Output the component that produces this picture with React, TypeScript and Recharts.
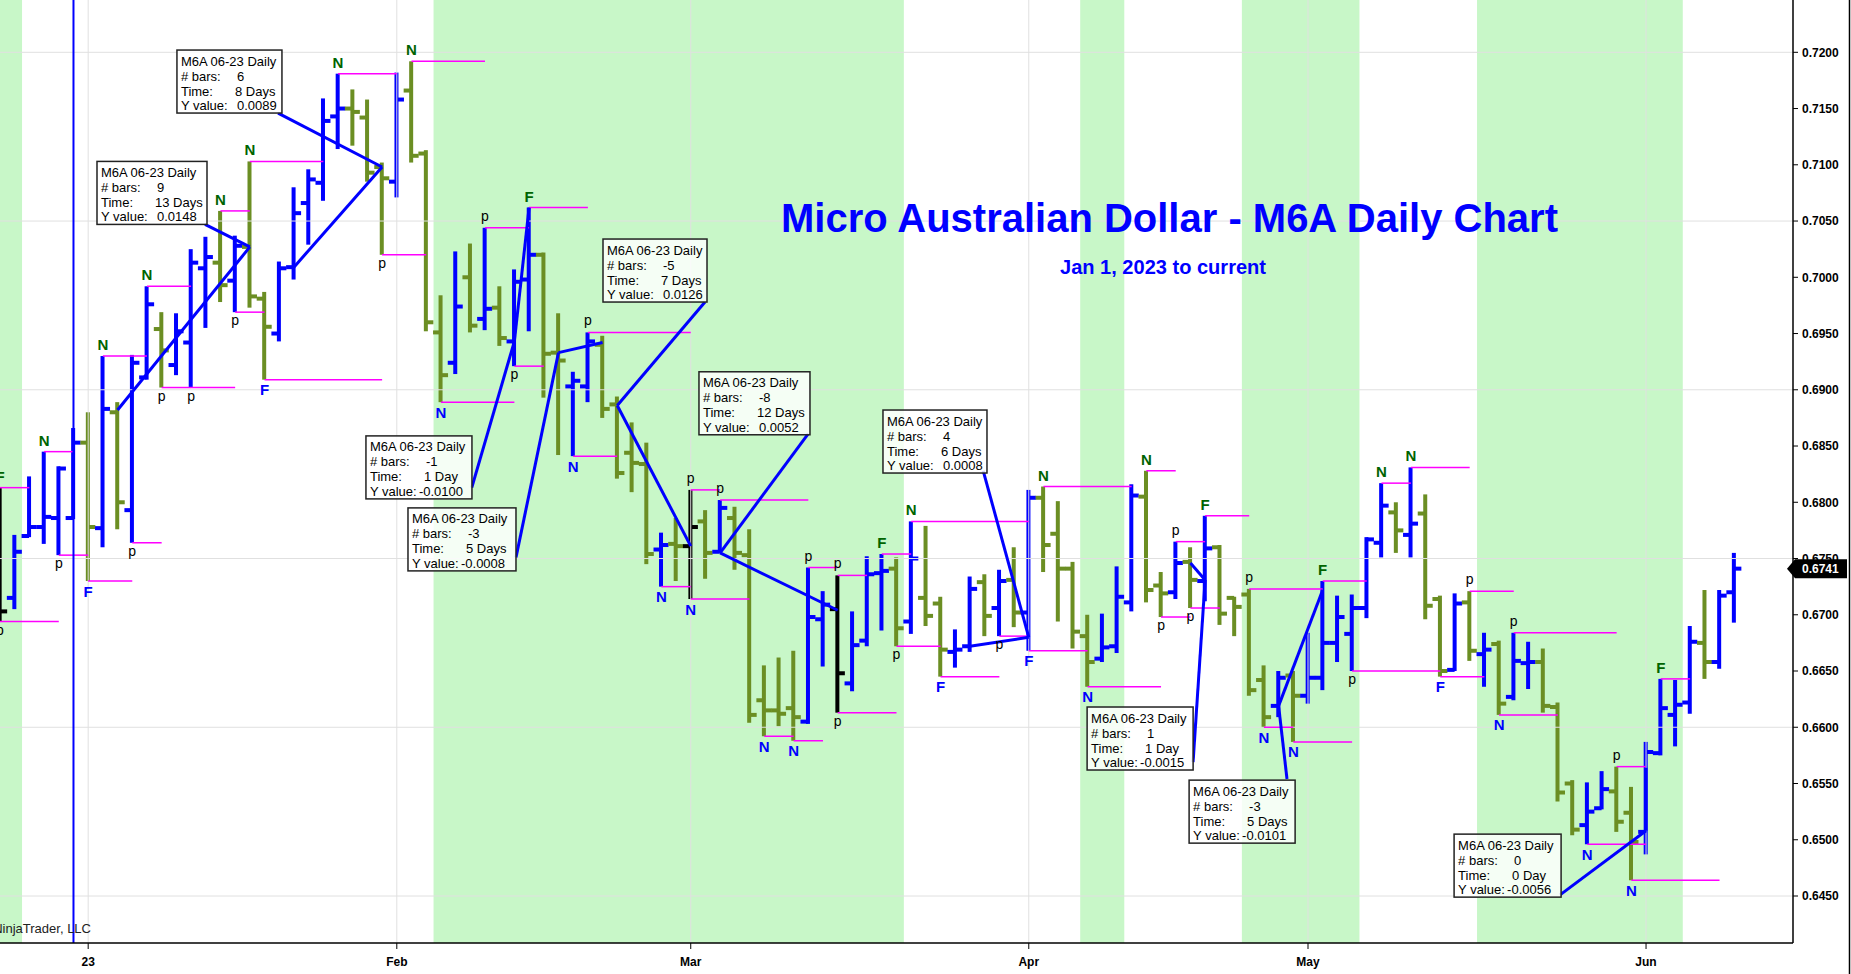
import React from 'react';
import { ComposedChart, Bar, XAxis, YAxis, ReferenceLine, ReferenceArea, ReferenceDot } from 'recharts';

// ---------- DATA ----------
const opens = [
  0.6767, 0.6715, 0.6770, 0.6778, 0.6786, 0.6786, 0.6853, 0.6777, 0.6880, 0.6793,
  0.6911, 0.6954, 0.6922, 0.6942, 0.7008, 0.7013, 0.6997, 0.7027, 0.6981, 0.6950,
  0.7009, 0.7066, 0.7084, 0.7143, 0.7150, 0.7142, 0.7098, 0.7085, 0.7166, 0.7110,
  0.6951, 0.6924, 0.7000, 0.6963, 0.6973, 0.6943, 0.6998, 0.7020, 0.6933, 0.6903,
  0.6903, 0.6940, 0.6887, 0.6844, 0.6834, 0.6758, 0.6763, 0.6761, 0.6783, 0.6756,
  0.6786, 0.6753, 0.6624, 0.6615, 0.6617, 0.6605, 0.6696, 0.6705, 0.6639, 0.6677,
  0.6737, 0.6741, 0.6694, 0.6715, 0.6710, 0.6667, 0.6672, 0.6729, 0.6706, 0.6731,
  0.6702, 0.6804, 0.6772, 0.6741, 0.6681, 0.6661, 0.6672, 0.6711, 0.6805, 0.6726,
  0.6720, 0.6747, 0.6730, 0.6760, 0.6715, 0.6718, 0.6642, 0.6619, 0.6646, 0.6628,
  0.6644, 0.6675, 0.6683, 0.6706, 0.6764, 0.6791, 0.6771, 0.6790, 0.6714, 0.6651,
  0.6711, 0.6665, 0.6674, 0.6627, 0.6657, 0.6658, 0.6618, 0.6550, 0.6513, 0.6528,
  0.6543, 0.6524, 0.6507, 0.6577, 0.6611, 0.6622, 0.6675, 0.6658, 0.6720,
];
const highs = [
  0.6813, 0.6771, 0.6823, 0.6845, 0.6832, 0.6866, 0.6880, 0.6930, 0.6889, 0.6931,
  0.6992, 0.6969, 0.6968, 0.7025, 0.7036, 0.7059, 0.7037, 0.7103, 0.6987, 0.7014,
  0.7080, 0.7096, 0.7159, 0.7181, 0.7167, 0.7158, 0.7102, 0.7182, 0.7192, 0.7113,
  0.6984, 0.7023, 0.7030, 0.7044, 0.6992, 0.7007, 0.7062, 0.7022, 0.6968, 0.6916,
  0.6951, 0.6948, 0.6894, 0.6871, 0.6853, 0.6773, 0.6786, 0.6811, 0.6793, 0.6802,
  0.6796, 0.6776, 0.6655, 0.6662, 0.6668, 0.6742, 0.6721, 0.6735, 0.6703, 0.6752,
  0.6754, 0.6751, 0.6783, 0.6779, 0.6716, 0.6687, 0.6734, 0.6736, 0.6740, 0.6760,
  0.6811, 0.6814, 0.6801, 0.6747, 0.6700, 0.6701, 0.6743, 0.6816, 0.6828, 0.6738,
  0.6765, 0.6760, 0.6788, 0.6762, 0.6716, 0.6723, 0.6655, 0.6650, 0.6650, 0.6684,
  0.6730, 0.6717, 0.6718, 0.6769, 0.6817, 0.6800, 0.6831, 0.6807, 0.6717, 0.6719,
  0.6721, 0.6684, 0.6677, 0.6684, 0.6676, 0.6670, 0.6622, 0.6553, 0.6551, 0.6561,
  0.6565, 0.6547, 0.6587, 0.6643, 0.6642, 0.6690, 0.6722, 0.6722, 0.6755,
];
const lows = [
  0.6694, 0.6705, 0.6769, 0.6763, 0.6753, 0.6785, 0.6730, 0.6760, 0.6776, 0.6764,
  0.6909, 0.6902, 0.6913, 0.6902, 0.6955, 0.6978, 0.6969, 0.6973, 0.6909, 0.6943,
  0.6998, 0.7029, 0.7068, 0.7114, 0.7117, 0.7085, 0.7020, 0.7071, 0.7102, 0.6952,
  0.6889, 0.6914, 0.6951, 0.6953, 0.6939, 0.6921, 0.6952, 0.6893, 0.6842, 0.6841,
  0.6889, 0.6875, 0.6821, 0.6809, 0.6745, 0.6725, 0.6730, 0.6714, 0.6732, 0.6755,
  0.6740, 0.6604, 0.6592, 0.6601, 0.6588, 0.6603, 0.6654, 0.6613, 0.6632, 0.6672,
  0.6686, 0.6672, 0.6683, 0.6690, 0.6645, 0.6653, 0.6667, 0.6681, 0.6681, 0.6689,
  0.6668, 0.6738, 0.6694, 0.6670, 0.6636, 0.6658, 0.6666, 0.6703, 0.6711, 0.6698,
  0.6714, 0.6706, 0.6712, 0.6691, 0.6681, 0.6628, 0.6600, 0.6609, 0.6587, 0.6621,
  0.6633, 0.6658, 0.6650, 0.6697, 0.6751, 0.6755, 0.6751, 0.6696, 0.6645, 0.6650,
  0.6659, 0.6636, 0.6611, 0.6624, 0.6634, 0.6613, 0.6534, 0.6504, 0.6496, 0.6527,
  0.6507, 0.6464, 0.6487, 0.6575, 0.6583, 0.6612, 0.6643, 0.6652, 0.6693,
];
const closes = [
  0.6703, 0.6756, 0.6778, 0.6787, 0.6830, 0.6853, 0.6778, 0.6883, 0.6800, 0.6924,
  0.6976, 0.6935, 0.6952, 0.7013, 0.7018, 0.6993, 0.7028, 0.6983, 0.6956, 0.7008,
  0.7057, 0.7087, 0.7139, 0.7150, 0.7147, 0.7093, 0.7088, 0.7158, 0.7108, 0.6960,
  0.6913, 0.6974, 0.6957, 0.6972, 0.6946, 0.6996, 0.7020, 0.6932, 0.6926, 0.6908,
  0.6943, 0.6883, 0.6826, 0.6835, 0.6754, 0.6762, 0.6761, 0.6778, 0.6755, 0.6795,
  0.6755, 0.6611, 0.6615, 0.6612, 0.6609, 0.6698, 0.6709, 0.6648, 0.6673, 0.6736,
  0.6739, 0.6688, 0.6750, 0.6699, 0.6669, 0.6669, 0.6723, 0.6699, 0.6730, 0.6702,
  0.6804, 0.6762, 0.6741, 0.6685, 0.6658, 0.6671, 0.6716, 0.6806, 0.6722, 0.6719,
  0.6746, 0.6731, 0.6759, 0.6701, 0.6707, 0.6633, 0.6609, 0.6644, 0.6628, 0.6644,
  0.6675, 0.6698, 0.6706, 0.6767, 0.6797, 0.6775, 0.6781, 0.6708, 0.6650, 0.6710,
  0.6668, 0.6669, 0.6621, 0.6659, 0.6658, 0.6619, 0.6542, 0.6509, 0.6525, 0.6545,
  0.6516, 0.6498, 0.6578, 0.6617, 0.6620, 0.6676, 0.6658, 0.6717, 0.6741,
];
// bars drawn in black in the reference
const blackBars = [0, 47, 57];

const monthTickIdx = [6, 27, 47, 70, 89, 112];
const monthTickLabels = ['23', 'Feb', 'Mar', 'Apr', 'May', 'Jun'];
const priceTicks = [
  0.645, 0.65, 0.655, 0.66, 0.665, 0.67, 0.675, 0.68,
  0.685, 0.69, 0.695, 0.7, 0.705, 0.71, 0.715, 0.72,
];
const gridPrices = [0.645, 0.66, 0.675, 0.69, 0.705, 0.72];
const shadedRanges = [[0, 1.5], [29.5, 61.5], [73.5, 76.5], [84.5, 92.5], [100.5, 114.5]];
const verticalMarkerIdx = 5;
const lastPrice = 0.6741;

// [bar index, letter, 'a' above high | 'b' below low]
const markers: [number, string, string][] = [
  [0, 'F', 'a'], [0, 'p', 'b'], [3, 'N', 'a'], [4, 'p', 'b'], [6, 'F', 'b'], [7, 'N', 'a'],
  [9, 'p', 'b'], [10, 'N', 'a'], [11, 'p', 'b'], [13, 'p', 'b'], [15, 'N', 'a'], [16, 'p', 'b'],
  [17, 'N', 'a'], [18, 'F', 'b'], [23, 'N', 'a'], [26, 'p', 'b'], [28, 'N', 'a'], [30, 'N', 'b'],
  [33, 'p', 'a'], [35, 'p', 'b'], [36, 'F', 'a'], [39, 'N', 'b'], [40, 'p', 'a'], [45, 'N', 'b'],
  [47, 'p', 'a'], [47, 'N', 'b'], [49, 'p', 'a'], [52, 'N', 'b'], [54, 'N', 'b'], [55, 'p', 'a'],
  [57, 'p', 'a'], [57, 'p', 'b'], [60, 'F', 'a'], [61, 'p', 'b'], [62, 'N', 'a'], [64, 'F', 'b'],
  [68, 'p', 'b'], [70, 'F', 'b'], [71, 'N', 'a'], [74, 'N', 'b'], [78, 'N', 'a'], [79, 'p', 'b'],
  [80, 'p', 'a'], [81, 'p', 'b'], [82, 'F', 'a'], [85, 'p', 'a'], [86, 'N', 'b'], [88, 'N', 'b'],
  [90, 'F', 'a'], [92, 'p', 'b'], [94, 'N', 'a'], [96, 'N', 'a'], [98, 'F', 'b'], [100, 'p', 'a'],
  [102, 'N', 'b'], [103, 'p', 'a'], [108, 'N', 'b'], [110, 'p', 'a'], [111, 'N', 'b'], [113, 'F', 'a'],
];

// [from bar, to bar, 'h' at the bar high | 'l' at the bar low]
const levelLines: [number, number, string][] = [
  [0, 2, 'h'], [0, 4, 'l'], [3, 5, 'h'], [4, 6, 'l'], [6, 9, 'l'], [7, 10, 'h'], [9, 11, 'l'],
  [10, 13, 'h'], [11, 13, 'l'], [13, 16, 'l'], [15, 17, 'h'], [16, 18, 'l'], [17, 22, 'h'],
  [18, 26, 'l'], [23, 27, 'h'], [26, 29, 'l'], [28, 33, 'h'], [30, 35, 'l'], [33, 36, 'h'],
  [35, 37, 'l'], [36, 40, 'h'], [39, 42, 'l'], [40, 47, 'h'], [45, 47, 'l'], [47, 49, 'h'],
  [47, 51, 'l'], [49, 55, 'h'], [52, 54, 'l'], [54, 56, 'l'], [55, 57, 'h'], [57, 59, 'h'],
  [57, 61, 'l'], [60, 62, 'h'], [61, 64, 'l'], [62, 70, 'h'], [64, 68, 'l'], [68, 70, 'l'],
  [70, 74, 'l'], [71, 77, 'h'], [74, 79, 'l'], [78, 80, 'h'], [79, 81, 'l'], [80, 82, 'h'],
  [81, 83, 'l'], [82, 85, 'h'], [85, 90, 'h'], [86, 88, 'l'], [88, 92, 'l'], [90, 93, 'h'],
  [92, 98, 'l'], [94, 96, 'h'], [96, 100, 'h'], [98, 101, 'l'], [100, 103, 'h'], [102, 106, 'l'],
  [103, 110, 'h'], [108, 112, 'l'], [110, 112, 'h'], [111, 117, 'l'], [113, 115, 'h'],
];

// ruler drawings: start point, end point [bar, price]
const rulerFrom = [
  [8, 0.6882], [20, 0.7009], [36, 0.7062], [41, 0.6942], [47, 0.6761],
  [57, 0.6704], [66, 0.6672], [81, 0.6746], [90, 0.6722], [112, 0.6564],
];
const rulerTo = [
  [17, 0.7027], [26, 0.7098], [35, 0.6943], [38, 0.6933], [42, 0.6886],
  [49, 0.6755], [70, 0.6680], [82, 0.6731], [87, 0.6619], [112, 0.6508],
];
// where each ruler's leader reaches its text box [bar, price]
const leaderTo = [
  [13.95, 0.7047], [18.92, 0.7146], [32.1, 0.6813], [35.11, 0.6751], [47.97, 0.6978],
  [55.0, 0.6861], [66.9, 0.6828], [81.18, 0.6569], [87.57, 0.6554], [106.15, 0.6451],
];
// top-left corner of each text box [bar, price]
const boxCorner = [
  [6.6, 0.7103], [12.04, 0.7202], [24.9, 0.6859], [27.76, 0.6795], [41.03, 0.7034],
  [47.56, 0.6916], [60.08, 0.6882], [73.97, 0.6618], [80.91, 0.6553], [98.94, 0.6505],
];
const boxBars = ['9', '6', '-1', '-3', '-5', '-8', '4', '1', '-3', '0'];
const boxTimes = ['13 Days', '8 Days', '1 Day', '5 Days', '7 Days', '12 Days', '6 Days', '1 Day', '5 Days', '0 Day'];
const boxValues = ['0.0148', '0.0089', '-0.0100', '-0.0008', '0.0126', '0.0052', '0.0008', '-0.0015', '-0.0101', '-0.0056'];

// ---------- STYLE ----------
const FONT = '"Liberation Sans", Arial, sans-serif';
const BLUE = '#0000ff';
const OLIVE = '#6b8e23';
const DKGREEN = '#006400';
const MAGENTA = '#ff00ff';
const BAND = '#c8f7c8';
const GRID = '#e0e0e0';
const BOX_W = [110, 105, 106, 108, 104, 111, 104, 106, 106, 107];
const BOX_H = 63;

const data = opens.map((o, i) => ({
  i,
  o,
  h: highs[i],
  l: lows[i],
  c: closes[i],
  range: [lows[i], highs[i]],
}));

const OhlcShape = (props: any) => {
  const { x, y, width, height, payload } = props;
  if (x == null || y == null || !payload) return null;
  const top = Math.min(y, y + height);
  const hgt = Math.abs(height);
  const cx = x + width / 2;
  const { o, h, l, c, i } = payload;
  const span = h - l || 1;
  const py = (v: number) => top + ((h - v) / span) * hgt;
  const color = blackBars.includes(i) ? '#000000' : c >= o ? BLUE : OLIVE;
  return (
    <g>
      <rect x={cx - 2} y={top} width={4} height={Math.max(hgt, 1)} fill={color} />
      <rect x={cx - 7.5} y={py(o) - 2} width={7.5} height={4} fill={color} />
      <rect x={cx} y={py(c) - 2} width={7.5} height={4} fill={color} />
    </g>
  );
};

const markerShape = (letter: string, pos: string) => (p: any) => {
  const { cx, cy } = p;
  if (cx == null || cy == null) return null;
  const isP = letter === 'p';
  let yy: number;
  if (pos === 'a') yy = isP ? cy - 7 : cy - 6;
  else yy = isP ? cy + 13 : cy + 15.5;
  const fill = isP ? '#000000' : pos === 'a' ? DKGREEN : BLUE;
  return (
    <text
      x={cx}
      y={yy}
      textAnchor="middle"
      fontFamily={FONT}
      fontSize={isP ? 14 : 15}
      fontWeight={isP ? 'normal' : 'bold'}
      fill={fill}
    >
      {letter}
    </text>
  );
};

const boxShape = (k: number) => (p: any) => {
  const { cx, cy } = p;
  if (cx == null || cy == null) return null;
  const neg = boxValues[k].startsWith('-');
  const t = { fontFamily: FONT, fontSize: 13, fill: '#000' };
  return (
    <g>
      <rect x={cx} y={cy} width={BOX_W[k]} height={BOX_H} fill="#ffffff" fillOpacity={0.82} stroke="#222" strokeWidth={1.5} />
      <text x={cx + 4} y={cy + 15.5} {...t}>M6A 06-23 Daily</text>
      <text x={cx + 4} y={cy + 30.5} {...t}># bars:</text>
      <text x={cx + 60} y={cy + 30.5} {...t}>{boxBars[k]}</text>
      <text x={cx + 4} y={cy + 45.5} {...t}>Time:</text>
      <text x={cx + 58} y={cy + 45.5} {...t}>{boxTimes[k]}</text>
      <text x={cx + 4} y={cy + 60} {...t}>Y value:</text>
      <text x={cx + (neg ? 53 : 60)} y={cy + 60} {...t}>{boxValues[k]}</text>
    </g>
  );
};

const priceTagShape = (p: any) => {
  const { cx, cy } = p;
  if (cx == null || cy == null) return null;
  return (
    <g>
      <polygon
        points={`${cx - 6},${cy} ${cx + 2},${cy - 9.5} ${cx + 54},${cy - 9.5} ${cx + 54},${cy + 9.5} ${cx + 2},${cy + 9.5}`}
        fill="#000"
      />
      <text x={cx + 9} y={cy + 4.5} fontFamily={FONT} fontSize={12} fontWeight="bold" fill="#fff">
        {lastPrice.toFixed(4)}
      </text>
    </g>
  );
};

export default function App() {
  return (
    <div style={{ position: 'absolute', left: 0, top: 0, width: 1851, height: 974, background: '#fff', fontFamily: FONT }}>
      <ComposedChart width={1851} height={974} data={data} margin={{ top: 0, right: 0, bottom: 0, left: 0 }}>
        <XAxis
          dataKey="i"
          type="number"
          domain={[0, 122]}
          allowDataOverflow
          ticks={monthTickIdx}
          interval={0}
          tickFormatter={(v: number) => monthTickLabels[monthTickIdx.indexOf(v)] ?? ''}
          height={31}
          tickSize={6}
          tickMargin={8}
          axisLine={{ stroke: '#000', strokeWidth: 1.5 }}
          tickLine={{ stroke: '#000' }}
          tick={{ fill: '#000', fontSize: 12, fontWeight: 700, fontFamily: FONT }}
        />
        <YAxis
          orientation="right"
          type="number"
          domain={[0.640822, 0.724649]}
          allowDataOverflow
          ticks={priceTicks}
          interval={0}
          tickFormatter={(v: number) => v.toFixed(4)}
          width={58}
          tickSize={5}
          tickMargin={4}
          axisLine={{ stroke: '#000', strokeWidth: 1.5 }}
          tickLine={{ stroke: '#000' }}
          tick={{ fill: '#000', fontSize: 12, fontWeight: 700, fontFamily: FONT }}
        />
        {shadedRanges.map(([a, b], k) => (
          <ReferenceArea key={`band${k}`} x1={a} x2={b} fill={BAND} fillOpacity={1} stroke="none" ifOverflow="hidden" />
        ))}
        {gridPrices.map((v) => (
          <ReferenceLine key={`gy${v}`} y={v} stroke={GRID} strokeWidth={1} />
        ))}
        {monthTickIdx.map((v) => (
          <ReferenceLine key={`gx${v}`} x={v} stroke={GRID} strokeWidth={1} />
        ))}
        {levelLines.map(([s, e, w], k) => {
          const yv = w === 'h' ? highs[s] : lows[s];
          return (
            <ReferenceLine
              key={`lv${k}`}
              segment={[{ x: s, y: yv }, { x: e, y: yv }]}
              stroke={MAGENTA}
              strokeWidth={1.5}
            />
          );
        })}
        <Bar dataKey="range" barSize={4} isAnimationActive={false} shape={OhlcShape} />
        <ReferenceLine x={verticalMarkerIdx} stroke={BLUE} strokeWidth={2} />
        {rulerFrom.map((f, k) => (
          <ReferenceLine
            key={`ru${k}`}
            segment={[{ x: f[0], y: f[1] }, { x: rulerTo[k][0], y: rulerTo[k][1] }]}
            stroke={BLUE}
            strokeWidth={3}
          />
        ))}
        {rulerTo.map((t, k) => (
          <ReferenceLine
            key={`ld${k}`}
            segment={[{ x: t[0], y: t[1] }, { x: leaderTo[k][0], y: leaderTo[k][1] }]}
            stroke={BLUE}
            strokeWidth={3}
          />
        ))}
        {markers.map(([i, letter, pos], k) => (
          <ReferenceDot
            key={`mk${k}`}
            x={i}
            y={pos === 'a' ? highs[i] : lows[i]}
            r={0}
            ifOverflow="visible"
            shape={markerShape(letter, pos)}
          />
        ))}
        {boxCorner.map((b, k) => (
          <ReferenceDot key={`bx${k}`} x={b[0]} y={b[1]} r={0} ifOverflow="visible" shape={boxShape(k)} />
        ))}
        <ReferenceDot x={122} y={lastPrice} r={0} ifOverflow="visible" shape={priceTagShape} />
      </ComposedChart>
      <svg width={1851} height={974} style={{ position: 'absolute', left: 0, top: 0, pointerEvents: 'none' }}>
        <text
          x={781}
          y={232}
          fontFamily={FONT}
          fontSize={41}
          fontWeight="bold"
          fill={BLUE}
          textLength={777}
          lengthAdjust="spacingAndGlyphs"
        >
          Micro Australian Dollar - M6A Daily Chart
        </text>
        <text
          x={1060}
          y={273.5}
          fontFamily={FONT}
          fontSize={20}
          fontWeight="bold"
          fill={BLUE}
          textLength={206}
          lengthAdjust="spacingAndGlyphs"
        >
          Jan 1, 2023 to current
        </text>
        <text x={91} y={933} textAnchor="end" fontFamily={FONT} fontSize={13} fill="#222">
          © NinjaTrader, LLC
        </text>
        <line x1={1849.5} y1={0} x2={1849.5} y2={974} stroke="#000" strokeWidth={1.5} />
      </svg>
    </div>
  );
}
